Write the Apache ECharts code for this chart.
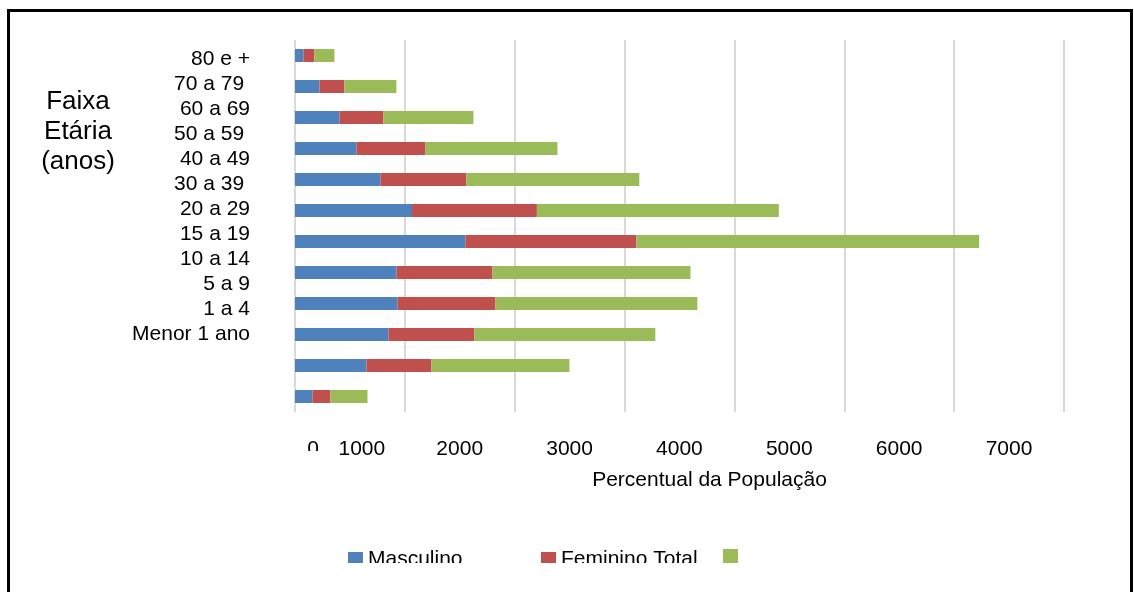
<!DOCTYPE html>
<html>
<head>
<meta charset="utf-8">
<script src="https://cdn.jsdelivr.net/npm/echarts@6/dist/echarts.min.js"></script>
<style>
    html, body { margin: 0; padding: 0; background: #fff; }
    body { position: relative; width: 1134px; height: 592px; overflow: hidden; }
    #frame { position: absolute; left: 7px; top: 9px; width: 1126px; height: 640px; border: 3px solid #000; box-sizing: border-box; }
    #chart { position: absolute; left: 0; top: 0; width: 1134px; height: 563px; }
</style>
</head>
<body>
<div id="frame"></div>
<div id="chart"></div>
<script>
const categories = ['80 e +', '70 a 79 ', '60 a 69', '50 a 59 ', '40 a 49', '30 a 39 ', '20 a 29', '15 a 19', '10 a 14', '5 a 9', '1 a 4', 'Menor 1 ano']
const masculino = [77, 223, 405, 560, 778, 1065, 1551, 924, 933, 851, 651, 159]
const feminino = [100, 227, 400, 628, 782, 1137, 1556, 874, 892, 782, 591, 164]
const total = [182, 473, 819, 1201, 1574, 2202, 3121, 1802, 1838, 1647, 1256, 337]
const xTicks = [0, 1000, 2000, 3000, 4000, 5000, 6000, 7000]

const FONT = '"Liberation Sans", Arial, sans-serif'
const TXT = { fontFamily: FONT, fontSize: 21, color: '#000' }

const chart = echarts.init(document.getElementById('chart'))

chart.setOption({
    animation: false,
    textStyle: { fontFamily: FONT },
    title: {
        text: 'Faixa\nEtária\n(anos)',
        left: 73,
        top: 82,
        textAlign: 'center',
        textStyle: { fontFamily: FONT, fontSize: 26, fontWeight: 'normal', lineHeight: 30, color: '#000', align: 'center' }
    },
    legend: [
        { data: ['Masculino'], left: 343, top: 544, icon: 'rect', itemWidth: 15, itemHeight: 15, selectedMode: false, textStyle: TXT },
        { data: ['Feminino'], left: 536, top: 544, icon: 'rect', itemWidth: 15, itemHeight: 15, selectedMode: false, textStyle: TXT, formatter: () => 'Feminino Total' },
        { data: ['Total'], left: 718, top: 544, icon: 'rect', itemWidth: 15, itemHeight: 15, selectedMode: false, textStyle: TXT, formatter: () => '' }
    ],
    grid: [
        { left: 295, right: 70, top: 40, height: 372 },
        { left: 258, width: 10, top: 46.5, height: 300 }
    ],
    xAxis: [
        {
            gridIndex: 0,
            type: 'value',
            min: xTicks[0],
            max: xTicks[xTicks.length - 1],
            interval: xTicks[1] - xTicks[0],
            axisLine: { show: false },
            axisTick: { show: false },
            splitLine: { lineStyle: { color: '#d9d9d9', width: 2 } },
            axisLabel: {
                margin: 27,
                formatter: (v) => v === 0 ? '{z|0}' : v === 1000 ? `{a|${v}}` : `{b|${v}}`,
                rich: {
                    z: { ...TXT, padding: [0, 0, 0, 36] },
                    a: { ...TXT, padding: [0, 86, 0, 0] },
                    b: { ...TXT, padding: [0, 110, 0, 0] }
                }
            },
            name: 'Percentual da População',
            nameLocation: 'middle',
            nameGap: 58,
            nameTextStyle: { ...TXT, padding: [0, 0, 0, 60] }
        },
        { gridIndex: 1, type: 'value', min: 0, max: 1, show: false }
    ],
    yAxis: [
        {
            gridIndex: 0,
            type: 'category',
            data: categories,
            inverse: true,
            axisLine: { show: false },
            axisTick: { show: false },
            axisLabel: { show: false }
        },
        {
            gridIndex: 1,
            type: 'category',
            data: categories,
            inverse: true,
            axisLine: { show: false },
            axisTick: { show: false },
            axisLabel: { ...TXT, margin: 8, interval: 0 }
        }
    ],
    graphic: [
        // hide the lower half of the "0" tick label, like the original
        { type: 'rect', shape: { x: 300, y: 451, width: 28, height: 14 }, style: { fill: '#fff' }, z: 100 }
    ],
    series: [
        { name: 'Masculino', type: 'bar', stack: 'pop', barWidth: 13, data: masculino, itemStyle: { color: '#4F81BD' } },
        { name: 'Feminino', type: 'bar', stack: 'pop', barWidth: 13, data: feminino, itemStyle: { color: '#C0504D' } },
        { name: 'Total', type: 'bar', stack: 'pop', barWidth: 13, data: total, itemStyle: { color: '#9BBB59' } }
    ]
})
</script>
</body>
</html>
